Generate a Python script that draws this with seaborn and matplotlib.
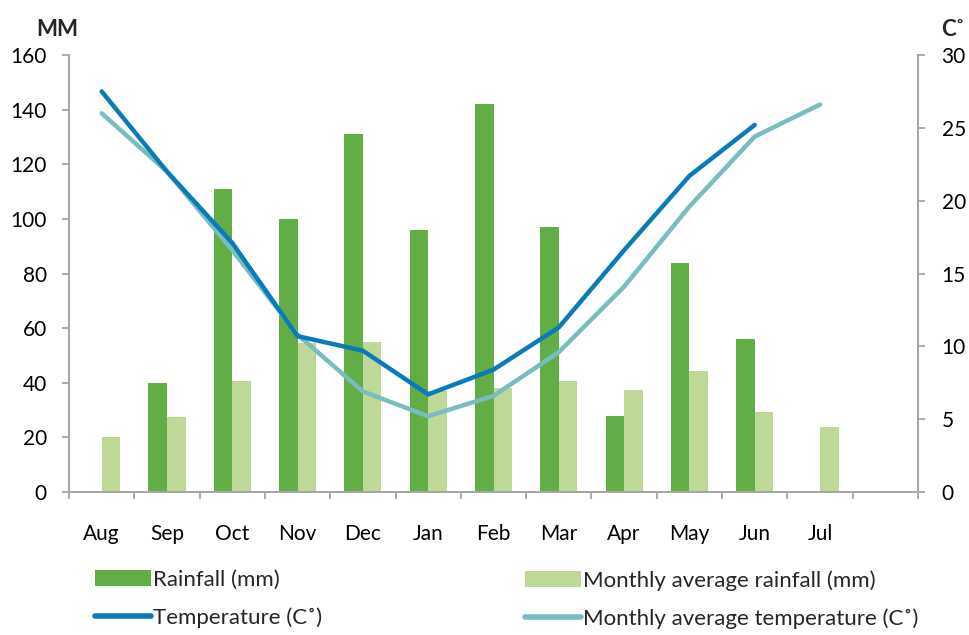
import numpy as np
import pandas as pd
import matplotlib
matplotlib.use("Agg")
import matplotlib.pyplot as plt
from matplotlib.patches import Patch
from matplotlib.lines import Line2D
from matplotlib.ticker import FixedLocator, NullFormatter
import seaborn as sns

# ---------------- data ----------------
months = ["Aug", "Sep", "Oct", "Nov", "Dec", "Jan", "Feb", "Mar", "Apr", "May", "Jun", "Jul", ""]
rainfall = [np.nan, 40, 111, 100, 131, 96, 142, 97, 28, 84, 56, np.nan, np.nan]
avg_rainfall = [20.2, 27.3, 40.7, 54.4, 54.8, 37, 38, 40.5, 37.3, 44.2, 29.4, 23.7, np.nan]
temperature = [27.5, 22.0, 17.1, 10.7, 9.7, 6.7, 8.4, 11.3, 16.6, 21.7, 25.2, np.nan, np.nan]
avg_temperature = [26.0, 22.0, 16.6, 10.8, 6.9, 5.2, 6.6, 9.6, 14.1, 19.6, 24.4, 26.6, np.nan]

rain_label = "Rainfall (mm)"
avg_rain_label = "Monthly average rainfall (mm)"
temp_label = "Temperature (C˚)"
avg_temp_label = "Monthly average temperature (C˚)"

c_rain = "#62AD46"
c_avg_rain = "#BED897"
c_temp = "#0A7BB8"
c_avg_temp = "#79BDC1"
spine_c = "#A6A6A6"

sns.set_theme(style="white")
plt.rcParams["font.family"] = ["Lato", "DejaVu Sans"]

df = pd.DataFrame({
    "month": months * 2,
    "series": [rain_label] * len(months) + [avg_rain_label] * len(months),
    "value": rainfall + avg_rainfall,
}).dropna()

fig = plt.figure(figsize=(9.69, 6.35), dpi=100)
ax = fig.add_axes([69 / 969, 1 - 492 / 635, (918 - 69) / 969, (492 - 55) / 635])

sns.barplot(data=df, x="month", y="value", hue="series", order=months,
            hue_order=[rain_label, avg_rain_label],
            palette=[c_rain, c_avg_rain], width=0.57, gap=0, errorbar=None,
            saturation=1, ax=ax, zorder=2, linewidth=0)
if ax.legend_ is not None:
    ax.legend_.remove()
ax.set_xlabel("")
ax.set_ylabel("")
ax.set_xlim(-0.5, len(months) - 0.5)
ax.set_ylim(0, 160)
ax.set_yticks(np.arange(0, 161, 20))

ax2 = ax.twinx()
xpos = np.arange(len(months))
tdf = pd.DataFrame({"x": xpos, "temp": temperature, "avg": avg_temperature})
sns.lineplot(data=tdf.dropna(subset=["avg"]), x="x", y="avg", color=c_avg_temp, lw=3.2,
             ax=ax2, solid_capstyle="round", solid_joinstyle="round")
sns.lineplot(data=tdf.dropna(subset=["temp"]), x="x", y="temp", color=c_temp, lw=3.2,
             ax=ax2, solid_capstyle="round", solid_joinstyle="round")
ax2.set_ylim(0, 30)
ax2.set_yticks(np.arange(0, 31, 5))
ax2.set_xlim(-0.5, len(months) - 0.5)
ax2.set_xlabel("")
ax2.set_ylabel("")

for a in (ax, ax2):
    a.spines["top"].set_visible(False)
    for s in ("left", "right", "bottom"):
        a.spines[s].set_color(spine_c)
        a.spines[s].set_linewidth(1.3)
    a.grid(False)

ax.tick_params(axis="y", which="major", direction="out", length=5, width=1.3,
               color=spine_c, pad=11, labelsize=15, labelcolor="black", left=True)
ax2.tick_params(axis="y", which="major", direction="out", length=5, width=1.3,
                color=spine_c, pad=12, labelsize=15, labelcolor="black", right=True)

# x: labels at slot centers, tick marks at slot boundaries
ax.set_xticks(xpos)
ax.set_xticklabels(months)
ax.xaxis.set_minor_locator(FixedLocator(np.arange(-0.5, len(months), 1.0)))
ax.xaxis.set_minor_formatter(NullFormatter())
ax.tick_params(axis="x", which="major", length=0, pad=23, labelsize=15, labelcolor="black")
ax.tick_params(axis="x", which="minor", direction="out", length=5, width=1.3,
               color=spine_c, bottom=True)

fig.text(57 / 969, 1 - 29 / 635, "MM", ha="center", va="center", fontsize=16, fontweight="bold")
fig.text(953 / 969, 1 - 30 / 635, "C˚", ha="center", va="center", fontsize=16, fontweight="bold")

h1 = [Patch(facecolor=c_rain, edgecolor="none"),
      Line2D([0], [0], color=c_temp, lw=4, solid_capstyle="round")]
h2 = [Patch(facecolor=c_avg_rain, edgecolor="none"),
      Line2D([0], [0], color=c_avg_temp, lw=4, solid_capstyle="round")]
common = dict(frameon=False, fontsize=16, handlelength=2.5, handletextpad=0.12,
              labelspacing=0.78, borderpad=0, borderaxespad=0, loc="upper left")
fig.legend(h1, [rain_label, temp_label], bbox_to_anchor=(95 / 969, 1 - 570 / 635), **common)
fig.legend(h2, [avg_rain_label, avg_temp_label], bbox_to_anchor=(525 / 969, 1 - 570 / 635), **common)

fig.savefig("out.png", dpi=100)
